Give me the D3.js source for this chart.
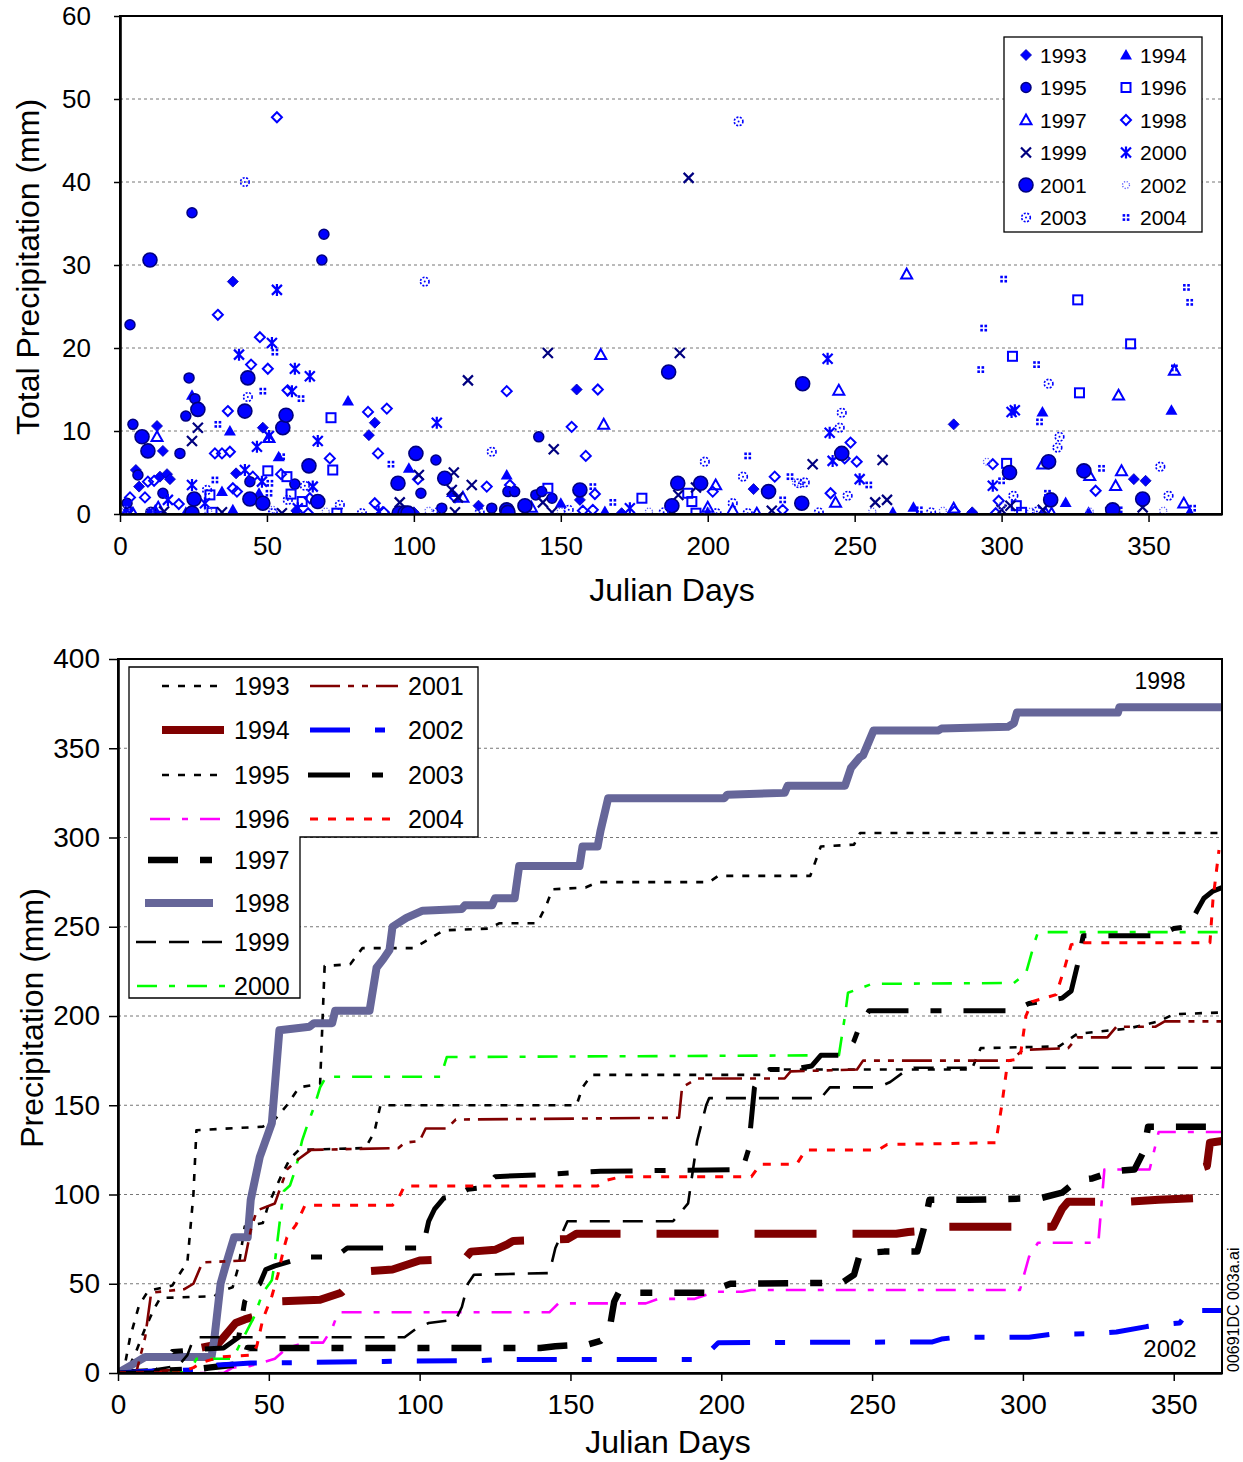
<!DOCTYPE html>
<html>
<head>
<meta charset="utf-8">
<script src="https://cdn.jsdelivr.net/npm/d3@7/dist/d3.min.js"></script>
<style>
  body { margin: 0; background: #fff; }
  svg text { font-family: "Liberation Sans", Arial, sans-serif; fill: #000; }
</style>
</head>
<body>
<svg id="chart" width="1243" height="1462"></svg>
<script>
// ---------- daily totals: [julian day, mm] ----------
const years = [1993, 1994, 1995, 1996, 1997, 1998, 1999, 2000, 2001, 2002, 2003, 2004];

const daily1993 = [[3,0.5],[5.4,5.3],[6.5,3.3],[12.6,10.6],[13.6,4.5],[14.6,7.6],[16,4.8],[17,4.2],[38.4,28],[39.5,4.9],[44,1.9],[48.6,10.4],[60,0.4],[84.7,9.5],[86.7,11],[100,0.2],[122,1],[155.4,15],[156.5,1.7],[170.7,0.1],[215.6,3],[283.7,10.8],[290,0.2],[345,4.2],[349,4.0]];
const daily1994 = [[2,0.3],[12,0.5],[22.4,0.2],[24.5,14.3],[34.7,2.7],[37.4,10],[38.4,0.5],[47.3,2.5],[54,6.9],[77.6,13.6],[98.3,5.5],[113,2.6],[131,0.2],[131.6,4.7],[150,1.3],[165,0.3],[200,0.2],[263,0.2],[270,0.8],[313.9,12.3],[321.8,1.4],[329.6,0.2],[357.8,12.5],[364,0.2]];
const daily1995 = [[2.4,1.3],[3.4,22.8],[4.4,10.8],[6.1,4.7],[10.5,0.2],[14.6,2.5],[20.4,7.3],[22.4,11.8],[23.5,16.4],[24.5,36.3],[25.5,13.9],[44.2,3.9],[59.5,3.6],[68.7,30.6],[69.4,33.7],[94.6,3.9],[97,0.1],[102.4,2.5],[107.5,6.5],[109.5,0.7],[126.5,0.7],[132,2.7],[134.3,2.7],[141.5,2.3],[142.5,9.3],[143.5,2.7],[147,1.9]];
const daily1996 = [[30.6,2.3],[31.3,0.2],[50.3,5.2],[56.8,4.5],[58.2,2.4],[62,1.5],[71.8,11.6],[72.4,5.3],[73.8,0.1],[145.6,3.1],[177.6,1.9],[193.2,2.5],[194.6,1.5],[196,0.1],[301.7,6.1],[303.7,19],[305,1],[306.8,0.2],[325.9,25.8],[326.5,14.6],[343.9,20.5]];
const daily1997 = [[4.4,0.1],[12.6,9.3],[13,0.8],[50.7,9.2],[116.7,2],[140,0.8],[163.6,19.2],[164.6,10.8],[200,0.8],[202.7,3.5],[208.5,0.5],[216.7,0.1],[243.5,1.4],[244.6,14.9],[267.7,28.9],[283.7,0.7],[314,6],[315,0.1],[317,0.1],[330,4.6],[338.8,3.4],[339.8,14.3],[340.8,5.2],[358.8,17.3],[362,1.3]];
const daily1998 = [[3.4,2],[8.5,2],[9.5,3.9],[11.6,4],[20,1.2],[32.3,7.3],[33.3,24],[34.7,7.3],[36.7,12.4],[37.4,7.5],[38.4,3.1],[39.8,2.7],[44.6,18],[45.2,4.5],[47.6,21.3],[50.3,17.5],[53.4,47.8],[54.8,4.8],[57,14.9],[64,0.1],[64.6,1.9],[71.4,6.7],[84.4,12.3],[86.7,1.3],[87.8,7.3],[89.8,0.2],[90.8,12.7],[101.4,4.2],[114,2],[124.8,3.3],[131.6,14.8],[132.7,3.5],[153.7,10.5],[157.5,0.4],[158.5,7],[160.9,0.5],[161.6,2.4],[162.6,15],[201.7,2.7],[222.8,4.5],[225.5,0.5],[241.8,2.5],[246.6,6.7],[248.6,8.6],[250.7,6.3],[284,0.3],[297,6],[298,0.1],[299,1.6],[332,2.8]];
const daily1999 = [[15,0.3],[24.5,8.8],[26.5,10.4],[34.7,0.2],[55.1,0.1],[95.2,1.4],[101.7,4.7],[112.9,2.9],[113.6,5],[114,0.2],[115,2],[118.4,16.1],[119.7,3.5],[143.9,1.4],[145.6,19.4],[147,0.2],[147.6,7.8],[190,2.3],[190.5,19.4],[193.5,40.5],[196,3.2],[221.8,0.4],[235.7,6],[257,1.4],[259.5,6.5],[261,1.7],[300,0.5],[303,1],[314,0.5],[337,0.2],[348,0.8]];
const daily2000 = [[16.3,1.7],[24.5,3.5],[28.9,1.3],[40.5,19.2],[42.5,5.3],[46.6,8.1],[48.3,3.9],[50.7,9.4],[51.7,20.6],[53.4,27],[58.5,14.8],[59.5,17.5],[60.5,0.7],[64.6,16.6],[65.6,3.3],[67.3,8.8],[88,0.3],[107.8,11],[173.5,0.7],[240.8,18.7],[241.5,9.8],[242.5,6.4],[251.7,4.2],[297,3.4],[303.4,12.3],[304.5,12.5]];
const daily2001 = [[7.5,9.3],[9.5,7.6],[10.2,30.6],[24.5,0.1],[25.2,1.8],[26.5,12.6],[42.5,12.4],[43.5,16.4],[44.2,1.8],[48.6,1.3],[55.4,10.4],[56.5,11.9],[64.3,5.8],[67.3,1.5],[94.6,3.7],[95,0.1],[97,0.1],[98,0.1],[100.7,7.3],[110.5,4.3],[131.6,0.5],[132,0.2],[137.8,1],[156.5,2.9],[186.7,17.1],[187.8,1],[189.8,3.7],[197.6,3.7],[220.7,2.7],[232,1.3],[232.3,15.7],[245.6,7.3],[302.7,5],[316,6.3],[316.7,1.7],[328,5.2],[337.8,0.5],[348,1.8]];
const daily2002 = [[2,0.5],[10,0.3],[30,0.4],[52,0.5],[70,0.3],[105,0.4],[150,0.3],[180,0.3],[200,0.3],[230,3.8],[256,0.3],[280,0.4],[295,6.3],[300,1],[310,0.3],[330,0.3],[355,0.4]];
const daily2003 = [[29.6,2.9],[42.5,40],[43.5,14.1],[52,0.1],[57.1,1.7],[62.9,3.4],[74.8,1.1],[82.3,0.1],[103.7,28],[108,0.2],[122.4,0.2],[126.5,7.5],[152.7,0.5],[185,0.2],[199,6.3],[203,0.1],[208.5,1.3],[210.5,47.3],[212,4.5],[213.6,0.1],[231,3.7],[233,3.8],[237.8,0.2],[244.9,10.4],[245.6,12.2],[247.6,2.2],[276,0.2],[304,2.2],[312,0.3],[316,15.7],[319,8],[319.7,9.3],[354,5.7],[356.8,2.2]];
const daily2004 = [[32.3,4.1],[33.3,10.8],[48.6,14.8],[50.7,2.5],[51,3.7],[52.7,19.5],[55,6.9],[61.6,13.9],[92.2,6],[160.9,3.3],[167.7,1.4],[213.6,7],[225.5,1.7],[228,4.5],[254.8,3.5],[272,0.5],[292.9,17.4],[293.9,22.4],[300,4],[300.7,28.3],[311.9,18],[312.9,11.1],[315.6,2.5],[334,5.5],[340,0.5],[358.8,17.6],[362.9,27.3],[364,25.5],[365,0.7]];

// ---------- running totals: [julian day, mm] ----------
const cum1993 = [[0,0],[2,2],[4,20],[7,38],[10,46],[18,49],[21,57],[23,62],[25,100],[26,136],[48,138],[52,142],[56,150],[60,160],[67,162],[68.5,228],[77,229],[81,238],[98,238],[102,242],[108,248],[123,249],[126.5,252],[139,252],[142,262],[144,271],[155,272],[159,275],[196,275],[199,278.5],[229.5,278.5],[233,295],[244,296],[246,302.5],[366,302.5]];
const cum1994 = [[0,0],[22,0],[25,10],[27,14],[33,16],[35,20],[39,28],[42,30],[48,33],[50,38],[52,40],[67,41],[74,45],[80,55],[83,57],[91,58],[100,63],[115,64],[117,68],[125,69],[129,72],[131,74],[149,75],[152,78],[258,78],[262,79],[270,80],[272,82],[310,82],[313,92],[315,96],[335,96],[345,97],[357,98],[359,115],[361,116],[362,129],[366,130]];
const cum1995 = [[0,0],[3,1],[6,12],[9,25],[12,36],[14,42],[32,43],[34,46],[38,48],[40,60],[42,82],[48,84],[50,95],[54,110],[57,120],[60,125],[82,126],[85,135],[87,150],[152,150],[154,160],[157,167],[213,167],[216,170],[283,170],[286,182],[312,183],[318,190],[335,193],[345,197],[350,201],[366,202]];
const cum1996 = [[0,0],[35,0],[38,3],[44,4],[48,6],[52,8],[56,14],[62,17],[68,17],[71,25],[73,34],[143,34],[146,39],[175,39],[179,41.5],[191,41.5],[198,45.5],[207,45.5],[210,46.5],[299,46.5],[302,65],[305,73],[325,73],[327,114],[342,114],[345,135],[366,135]];
const cum1997 = [[0,0],[25,2],[30,3],[40,5],[42,8],[43,14],[140,14],[145,15],[156,16],[160,18],[163,25],[164.5,40],[166,45],[197,45],[200,48],[203,50],[240,50.5],[244,55],[246,67],[254,68],[265,68],[267,80],[269,97],[282,97],[306,98],[313,101],[318,108],[323,109],[330,113],[337,114],[340,124],[341.5,138],[366,138]];
const cum1998 = [[0,0],[3,3],[5,5],[8,8],[9,9],[31,9],[32,20],[34,50],[36,62],[38.5,76],[43,76],[44,97],[47,121],[51,140],[53.5,192],[63.5,194],[65,196],[71,196],[72,203],[83.4,203],[85.7,227],[88,232],[90,237],[91,250],[95.6,255],[101,259],[114,260],[115,262],[124,262],[125,266],[131.5,266],[133,284],[153,284],[154,295],[159,295],[160,304],[162.5,322],[201,322],[202,324],[221,325],[222,329],[241,329],[243,339],[246,345],[247,346],[250.5,360],[272,360],[273,361],[295,362],[297,364],[298,370],[331.5,370],[332,373],[366,373]];
const cum1999 = [[0,0],[8,0],[12,2],[20,4],[23,10],[25,19],[26,20],[95,20],[99,25],[103,28],[112,30],[114,37],[116,50],[118,55],[143,56],[145,70],[149,85],[184,85],[189,95],[192,130],[195,150],[196,154],[233,154],[236,160],[252,160],[256,163],[260,168],[264,171],[366,171]];
const cum2000 = [[0,0],[20,0],[24,1],[26,8],[38,8],[41,18],[45,31],[48,45],[51,52],[52,62],[54,90],[55,102],[57,105],[59,115],[61,130],[63,140],[65,149],[67,160],[69,166],[107,166],[109,177],[239,178],[241,200],[242,213],[250,218],[297,218.5],[301,224],[304,242],[305,247],[366,247]];
const cum2001 = [[0,0],[6,0],[9,20],[11,45],[22,47],[25,50],[28,62],[42,63],[44,80],[46,91],[52,95],[56,114],[60,120],[64,125],[93,126],[95,129],[100,130],[102,137],[109,137],[112,142],[186,143],[187,160],[192,165],[221,165],[223,169],[245,170],[247,175],[296,175],[300,181],[315,182],[318,188],[328,188],[331,194],[344,194],[347,197],[366,197]];
const cum2002 = [[0,0],[10,1],[20,1.5],[30,2],[33,4.5],[39,5],[44,5.6],[59,5.8],[88,6.5],[120,7],[126,7.5],[193,7.5],[196,12],[199,17],[270,17.4],[273,19],[278,20],[302,20],[310,21.8],[323,22],[331,23],[341,26],[345,27],[352,28],[355,35],[366,35]];
const cum2003 = [[0,0],[12,0],[15,5],[18,12],[25,13],[35,14],[40,20],[42,40],[44,47],[47,50],[49,58],[52,60],[58,63],[60,65],[72,65],[76,70],[101,70],[103,85],[105,92],[108,98],[112,99],[116,103],[122,104],[125,110],[139,111],[160,113],[207,114],[209,125],[211,160],[213,166],[216,170],[223,170],[230,172],[233,178],[241,178],[244,186],[246,195],[249,203],[297,203],[302,207],[313,210],[316,214],[318,228],[320,245],[345,245],[350,249],[355,250],[358,260],[360,266],[363,270],[366,272]];
const cum2004 = [[0,0],[20,0],[25,3],[28,6],[34,9],[44,10],[46,15],[48,30],[51,43],[53,55],[55,70],[56,76],[59,83],[62,94],[91,94],[93,98],[95,104.8],[159,104.8],[162,108],[167,110],[210,110],[213,117],[225,117],[228,125],[252,125],[255,128],[291,129],[293,150],[295,175],[299,176],[301,200],[303,208],[311,212],[314,228],[316,240],[319,241],[362,241],[363,265],[365,293]];

// axis ticks
const dayTicks = [0, 50, 100, 150, 200, 250, 300, 350];
const dailyTicks = [0, 10, 20, 30, 40, 50, 60];
const cumTicks = [0, 50, 100, 150, 200, 250, 300, 350, 400];

// ---------- lookups built from the arrays above ----------
const dailyByYear = {1993: daily1993, 1994: daily1994, 1995: daily1995, 1996: daily1996, 1997: daily1997, 1998: daily1998,
  1999: daily1999, 2000: daily2000, 2001: daily2001, 2002: daily2002, 2003: daily2003, 2004: daily2004};
const cumByYear = {1993: cum1993, 1994: cum1994, 1995: cum1995, 1996: cum1996, 1997: cum1997, 1998: cum1998,
  1999: cum1999, 2000: cum2000, 2001: cum2001, 2002: cum2002, 2003: cum2003, 2004: cum2004};

const BLUE = "#0000ff", NAVY = "#000080";
const svg = d3.select("#chart");

// ---------- marker glyphs for the daily scatter ----------
function drawMarker(g, yr) {
  switch (yr) {
    case 1993: g.append("path").attr("d", "M0,-5.5L5.5,0L0,5.5L-5.5,0Z").attr("fill", BLUE).attr("stroke", "#0000b0").attr("stroke-width", 0.8); break;
    case 1994: g.append("path").attr("d", "M0,-6L6,4.5L-6,4.5Z").attr("fill", BLUE); break;
    case 1995: g.append("circle").attr("r", 5).attr("fill", BLUE).attr("stroke", NAVY).attr("stroke-width", 1.5); break;
    case 1996: g.append("rect").attr("x", -4.5).attr("y", -4.5).attr("width", 9).attr("height", 9).attr("fill", "none").attr("stroke", BLUE).attr("stroke-width", 2); break;
    case 1997: g.append("path").attr("d", "M0,-5.5L5.5,4.3L-5.5,4.3Z").attr("fill", "none").attr("stroke", BLUE).attr("stroke-width", 2); break;
    case 1998: g.append("path").attr("d", "M0,-5L5,0L0,5L-5,0Z").attr("fill", "none").attr("stroke", BLUE).attr("stroke-width", 2); break;
    case 1999: g.append("path").attr("d", "M-5,-5L5,5M5,-5L-5,5").attr("stroke", NAVY).attr("stroke-width", 2.2); break;
    case 2000: g.append("path").attr("d", "M-5,-5L5,5M5,-5L-5,5M0,-6V6").attr("stroke", BLUE).attr("stroke-width", 2.2); break;
    case 2001: g.append("circle").attr("r", 7).attr("fill", BLUE).attr("stroke", NAVY).attr("stroke-width", 1.6); break;
    case 2002: g.append("circle").attr("r", 3.5).attr("fill", "none").attr("stroke", "#5a5aff").attr("stroke-width", 1.3).attr("stroke-dasharray", "1.2,1.6"); break;
    case 2003:
      g.append("circle").attr("r", 4.3).attr("fill", "none").attr("stroke", BLUE).attr("stroke-width", 1.6).attr("stroke-dasharray", "2,1.5");
      g.append("circle").attr("r", 1).attr("fill", BLUE); break;
    case 2004:
      [[-3.4,-3.4],[0.8,-3.4],[-3.4,0.8],[0.8,0.8]].forEach(([dx,dy]) =>
        g.append("rect").attr("x", dx).attr("y", dy).attr("width", 2.6).attr("height", 2.6).attr("fill", BLUE));
      break;
  }
}

// ================= top panel: daily totals =================
const T = {l: 120, r: 1222, t: 16, b: 514};
const x1 = d3.scaleLinear().domain([0, 375]).range([T.l, T.r]);
const y1 = d3.scaleLinear().domain([0, 60]).range([T.b, T.t]);

const topPanel = svg.append("g");
topPanel.append("g").selectAll("line").data(dailyTicks.filter(v => v > 0 && v < 60)).join("line")
  .attr("x1", T.l).attr("x2", T.r).attr("y1", d => y1(d)).attr("y2", d => y1(d))
  .attr("stroke", "#777").attr("stroke-width", 1).attr("stroke-dasharray", "3,3");

topPanel.append("rect").attr("x", T.l).attr("y", T.t).attr("width", T.r - T.l).attr("height", T.b - T.t)
  .attr("fill", "none").attr("stroke", "#000").attr("stroke-width", 2);

const clip1 = svg.append("clipPath").attr("id", "clipTop");
clip1.append("rect").attr("x", T.l).attr("y", T.t - 8).attr("width", T.r - T.l).attr("height", T.b - T.t + 8);

const pts = topPanel.append("g").attr("clip-path", "url(#clipTop)");
years.forEach(yr => {
  pts.append("g").selectAll("g").data(dailyByYear[yr]).join("g")
    .attr("transform", d => `translate(${x1(d[0])},${y1(d[1])})`)
    .each(function() { drawMarker(d3.select(this), yr); });
});

const xAx1 = topPanel.append("g").attr("transform", `translate(0,${T.b})`)
  .call(d3.axisBottom(x1).tickValues(dayTicks).tickSize(8).tickSizeOuter(0).tickPadding(15).tickFormat(d3.format("d")));
const yAx1 = topPanel.append("g").attr("transform", `translate(${T.l},0)`)
  .call(d3.axisLeft(y1).tickValues(dailyTicks).tickSize(6).tickSizeOuter(0).tickPadding(23).tickFormat(d3.format("d")));
[xAx1, yAx1].forEach(a => {
  a.select(".domain").attr("stroke", "#000").attr("stroke-width", 2.6);
  a.selectAll(".tick line").attr("stroke", "#000").attr("stroke-width", 1.5);
  a.selectAll(".tick text").attr("font-size", 26).attr("fill", "#000");
});

topPanel.append("text").attr("x", 672).attr("y", 601).attr("text-anchor", "middle").attr("font-size", 32).text("Julian Days");
topPanel.append("text").attr("transform", "translate(39,267) rotate(-90)").attr("text-anchor", "middle")
  .attr("font-size", 32).text("Total Precipitation (mm)");

// legend for the scatter
const lg1 = topPanel.append("g");
lg1.append("rect").attr("x", 1004).attr("y", 37).attr("width", 198).attr("height", 195)
  .attr("fill", "#fff").attr("stroke", "#000").attr("stroke-width", 1.3);
years.forEach((yr, i) => {
  const col = i % 2, row = Math.floor(i / 2);
  const cx = 1026 + col * 100, cy = 55 + row * 32.5;
  const g = lg1.append("g").attr("transform", `translate(${cx},${cy})`);
  drawMarker(g, yr);
  lg1.append("text").attr("x", cx + 14).attr("y", cy + 7.5).attr("font-size", 21).text(yr);
});

// ================= bottom panel: running totals =================
const B = {l: 118, r: 1222, t: 659, b: 1373};
const x2 = d3.scaleLinear().domain([0, 366]).range([B.l, B.r]);
const y2 = d3.scaleLinear().domain([0, 400]).range([B.b, B.t]);

const botPanel = svg.append("g");
botPanel.append("g").selectAll("line").data(cumTicks.filter(v => v > 0 && v < 400)).join("line")
  .attr("x1", B.l).attr("x2", B.r).attr("y1", d => y2(d)).attr("y2", d => y2(d))
  .attr("stroke", "#777").attr("stroke-width", 1).attr("stroke-dasharray", "3,3");

const lineStyles = {
  1993: {c: "#000", w: 2.6, d: "7,9"},
  1994: {c: "#800000", w: 8, d: "62,36"},
  1995: {c: "#000", w: 2.6, d: "7,9"},
  1996: {c: "#ff00ff", w: 2.6, d: "20,12,6,12"},
  1997: {c: "#000", w: 6.5, d: "30,22,12,22"},
  1998: {c: "#666699", w: 8, d: null},
  1999: {c: "#000", w: 2.6, d: "20,13"},
  2000: {c: "#00ff00", w: 2.6, d: "20,12,6,12"},
  2001: {c: "#800000", w: 2.6, d: "30,8,6,8,6,8"},
  2002: {c: "#0000ff", w: 5, d: "40,25,10,25"},
  2003: {c: "#000", w: 5, d: "42,22,11,22"},
  2004: {c: "#ff0000", w: 3, d: "8,10"}
};

const clip2 = svg.append("clipPath").attr("id", "clipBot");
clip2.append("rect").attr("x", B.l).attr("y", B.t).attr("width", B.r - B.l).attr("height", B.b - B.t);

const line = d3.line().x(d => x2(d[0])).y(d => y2(d[1]));
const lines = botPanel.append("g").attr("clip-path", "url(#clipBot)");
years.forEach(yr => {
  const s = lineStyles[yr];
  lines.append("path").datum(cumByYear[yr]).attr("d", line)
    .attr("fill", "none").attr("stroke", s.c).attr("stroke-width", s.w)
    .attr("stroke-dasharray", s.d).attr("stroke-linejoin", "round");
});

botPanel.append("rect").attr("x", B.l).attr("y", B.t).attr("width", B.r - B.l).attr("height", B.b - B.t)
  .attr("fill", "none").attr("stroke", "#000").attr("stroke-width", 2);

const xAx2 = botPanel.append("g").attr("transform", `translate(0,${B.b})`)
  .call(d3.axisBottom(x2).tickValues(dayTicks).tickSize(8).tickSizeOuter(0).tickPadding(13).tickFormat(d3.format("d")));
const yAx2 = botPanel.append("g").attr("transform", `translate(${B.l},0)`)
  .call(d3.axisLeft(y2).tickValues(cumTicks).tickSize(9).tickSizeOuter(0).tickPadding(9).tickFormat(d3.format("d")));
[xAx2, yAx2].forEach(a => {
  a.select(".domain").attr("stroke", "#000").attr("stroke-width", 2.6);
  a.selectAll(".tick line").attr("stroke", "#000").attr("stroke-width", 1.5);
  a.selectAll(".tick text").attr("font-size", 28).attr("fill", "#000");
});

botPanel.append("text").attr("x", 668).attr("y", 1453).attr("text-anchor", "middle").attr("font-size", 32).text("Julian Days");
botPanel.append("text").attr("transform", "translate(43,1018) rotate(-90)").attr("text-anchor", "middle")
  .attr("font-size", 32).text("Precipitation (mm)");

botPanel.append("text").attr("x", 1160).attr("y", 689).attr("text-anchor", "middle").attr("font-size", 23).text("1998");
botPanel.append("text").attr("x", 1170).attr("y", 1357).attr("text-anchor", "middle").attr("font-size", 24).text("2002");
svg.append("text").attr("transform", "translate(1239,1372) rotate(-90)").attr("font-size", 16).text("00691DC  003a.ai");

// L-shaped legend for the running totals
const lg2 = botPanel.append("g");
lg2.append("path").attr("d", "M129,667H478V837H300V998H129Z")
  .attr("fill", "#fff").attr("stroke", "#000").attr("stroke-width", 1.3);
const legLeft = [
  {yr: 1993, y: 686, x0: 162, x1: 222},
  {yr: 1994, y: 730, x0: 162, x1: 224},
  {yr: 1995, y: 775, x0: 162, x1: 222},
  {yr: 1996, y: 819, x0: 150, x1: 222},
  {yr: 1997, y: 860, x0: 148, x1: 216},
  {yr: 1998, y: 903, x0: 145, x1: 213},
  {yr: 1999, y: 942, x0: 136, x1: 222},
  {yr: 2000, y: 986, x0: 137, x1: 225}
];
const legRight = [
  {yr: 2001, y: 686, x0: 310, x1: 398},
  {yr: 2002, y: 730, x0: 310, x1: 386},
  {yr: 2003, y: 775, x0: 308, x1: 384},
  {yr: 2004, y: 819, x0: 310, x1: 398}
];
legLeft.concat(legRight).forEach(e => {
  const s = lineStyles[e.yr];
  lg2.append("line").attr("x1", e.x0).attr("x2", e.x1).attr("y1", e.y).attr("y2", e.y)
    .attr("stroke", s.c).attr("stroke-width", s.w).attr("stroke-dasharray", s.d);
  const tx = e.yr >= 2001 && e.yr <= 2004 ? 408 : 234;
  lg2.append("text").attr("x", tx).attr("y", e.y + 9).attr("font-size", 25).text(e.yr);
});
</script>
</body>
</html>
